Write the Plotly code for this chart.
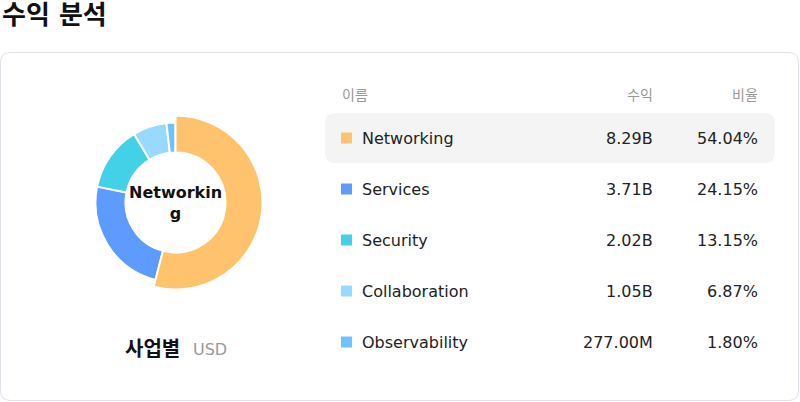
import plotly.graph_objects as go

# revenue by business line (USD)
names = ["Networking", "Services", "Security", "Collaboration", "Observability"]
revenue = [8.293e9, 3.706e9, 2.018e9, 1.054e9, 0.277e9]
revenue_txt = ["8.29B", "3.71B", "2.02B", "1.05B", "277.00M"]
share_txt = ["54.04%", "24.15%", "13.15%", "6.87%", "1.80%"]
colors = ["#FFC36E", "#5E9BFF", "#42D1E6", "#97D9FF", "#6EC3FF"]
highlight = 0  # hovered slice

W, H = 800, 402
font = "DejaVu Sans, Noto Sans CJK KR, sans-serif"


def dom(cx, cy, r):
    # pixel circle -> paper domain
    return dict(x=[(cx - r) / W, (cx + r) / W], y=[1 - (cy + r) / H, 1 - (cy - r) / H])


def rrect(x0, y0, x1, y1, r):
    return (f"M{x0+r},{y0} L{x1-r},{y0} Q{x1},{y0} {x1},{y0+r} L{x1},{y1-r} "
            f"Q{x1},{y1} {x1-r},{y1} L{x0+r},{y1} Q{x0},{y1} {x0},{y1-r} "
            f"L{x0},{y0+r} Q{x0},{y0} {x0+r},{y0} Z")


cx, cy = 175.5, 202.5
r_in, r_out, r_big = 50, 80, 87
clear = "rgba(0,0,0,0)"

fig = go.Figure()
fig.add_trace(go.Pie(
    labels=names, values=revenue, sort=False, direction="clockwise", rotation=0,
    hole=r_in / r_out, domain=dom(cx, cy, r_out), textinfo="none", hoverinfo="none",
    marker=dict(colors=[clear if i == highlight else c for i, c in enumerate(colors)],
                line=dict(color=[clear if i == highlight else "white" for i in range(len(names))], width=2)),
    showlegend=False,
))
fig.add_trace(go.Pie(
    labels=names, values=revenue, sort=False, direction="clockwise", rotation=0,
    hole=r_in / r_big, domain=dom(cx, cy, r_big), textinfo="none", hoverinfo="none",
    marker=dict(colors=[c if i == highlight else clear for i, c in enumerate(colors)],
                line=dict(color=["white" if i == highlight else clear for i in range(len(names))], width=2)),
    showlegend=False,
))

shapes = [
    dict(type="path", path=rrect(0.5, 52.5, 798.5, 400.5, 10), xref="x", yref="y",
         line=dict(color="#E2E1EC", width=1), fillcolor="white", layer="below"),
]
ann = [
    dict(x=0, y=15, text="<b>수익 분석</b>", xanchor="left", font=dict(size=26, color="#111")),
    dict(x=cx, y=cy, text="<b>" + names[highlight][:9] + "<br>" + names[highlight][9:] + "</b>",
         font=dict(size=16, color="#111")),
    dict(x=123, y=349, text="<b>사업별</b>", xanchor="left", font=dict(size=20, color="#111")),
    dict(x=191, y=349, text="USD", xanchor="left", font=dict(size=16, color="#999")),
    dict(x=340, y=95, text="이름", xanchor="left", font=dict(size=14, color="#999")),
    dict(x=655, y=95, text="수익", xanchor="right", font=dict(size=14, color="#999")),
    dict(x=760, y=95, text="비율", xanchor="right", font=dict(size=14, color="#999")),
]

row0, step = 138, 51
for i, n in enumerate(names):
    y = row0 + i * step
    if i == highlight:
        shapes.append(dict(type="path", path=rrect(325, y - 25, 775, y + 25, 10), xref="x", yref="y",
                           line=dict(width=0), fillcolor="#F4F4F4", layer="below"))
    shapes.append(dict(type="rect", x0=341, x1=352, y0=y - 5.5, y1=y + 5.5, xref="x", yref="y",
                       line=dict(width=0), fillcolor=colors[i]))
    ann.append(dict(x=360, y=y, text=n, xanchor="left", font=dict(size=16, color="#222")))
    ann.append(dict(x=655, y=y, text=revenue_txt[i], xanchor="right", font=dict(size=16, color="#222")))
    ann.append(dict(x=760, y=y, text=share_txt[i], xanchor="right", font=dict(size=16, color="#222")))

for a in ann:
    a.update(xref="x", yref="y", showarrow=False, yanchor="middle")

fig.update_layout(
    width=W, height=H, margin=dict(l=0, r=0, t=0, b=0),
    paper_bgcolor="white", plot_bgcolor="rgba(0,0,0,0)",
    font=dict(family=font),
    xaxis=dict(range=[0, W], visible=False, fixedrange=True),
    yaxis=dict(range=[H, 0], visible=False, fixedrange=True),
    shapes=shapes, annotations=ann,
)

fig.write_html("out.html", config={"displayModeBar": False},
               post_script="document.body.style.margin='0';")
